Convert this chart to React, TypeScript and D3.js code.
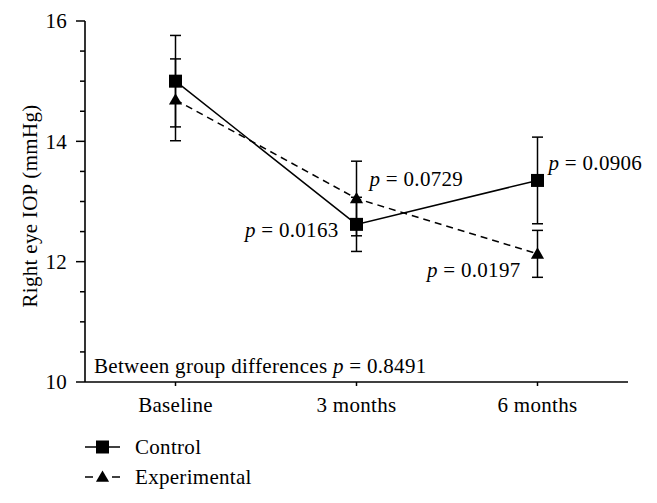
import React from "react";
import * as d3 from "d3";

const categories = ["Baseline", "3 months", "6 months"];
const controlMean = [15.0, 12.62, 13.35];
const controlErr = [0.76, 0.45, 0.72];
const experimentalMean = [14.69, 13.05, 12.13];
const experimentalErr = [0.68, 0.62, 0.39];
const yTickLabels = [10, 12, 14, 16];
const yMinorTicks = [10.5, 11, 11.5, 12.5, 13, 13.5, 14.5, 15, 15.5];
const pLabels = ["0.0163", "0.0729", "0.0906", "0.0197"];
const betweenP = "0.8491";

const W = 657;
const H = 503;
const FONT = '"Liberation Serif", "DejaVu Serif", serif';
const FS = 21;
const LS = 0.3;

export default function App() {
  const x = d3.scalePoint<string>().domain(categories).range([85, 628]).padding(0.5);
  const y = d3.scaleLinear().domain([10, 16]).range([382, 21]);

  const ctrlPts = categories.map((c, i) => ({ c, v: controlMean[i], e: controlErr[i] }));
  const expPts = categories.map((c, i) => ({ c, v: experimentalMean[i], e: experimentalErr[i] }));

  const line = d3
    .line<{ c: string; v: number }>()
    .x((d) => x(d.c) as number)
    .y((d) => y(d.v));

  const tri = d3.symbol().type(d3.symbolTriangle).size(75)() as string;

  const errBar = (d: { c: string; v: number; e: number }, key: string) => {
    const cx = x(d.c) as number;
    const y1 = y(d.v + d.e);
    const y2 = y(d.v - d.e);
    return (
      <g key={key} stroke="#000" strokeWidth={1.5}>
        <line x1={cx} x2={cx} y1={y1} y2={y2} />
        <line x1={cx - 5.5} x2={cx + 5.5} y1={y1} y2={y1} />
        <line x1={cx - 5.5} x2={cx + 5.5} y1={y2} y2={y2} />
      </g>
    );
  };

  const pText = (val: string, tx: number, ty: number, anchor: string, key: string) => (
    <text key={key} x={tx} y={ty} textAnchor={anchor} fontSize={FS} fill="#000">
      <tspan fontStyle="italic">p</tspan>
      <tspan> = {val}</tspan>
    </text>
  );

  return (
    <svg
      width={W}
      height={H}
      style={{
        position: "absolute",
        left: 0,
        top: 0,
        background: "#fff",
        fontFamily: FONT,
        letterSpacing: LS,
      }}
    >
      <rect width={W} height={H} fill="#fff" />
      {/* axes */}
      <line x1={85} x2={85} y1={y(16)} y2={y(10)} stroke="#000" strokeWidth={1.6} />
      <line x1={85} x2={628} y1={y(10)} y2={y(10)} stroke="#000" strokeWidth={1.6} />
      {yTickLabels.map((t) => (
        <g key={"yt" + t}>
          <line x1={76} x2={85} y1={y(t)} y2={y(t)} stroke="#000" strokeWidth={1.5} />
          <text x={67} y={y(t)} dy="0.35em" textAnchor="end" fontSize={FS}>
            {t}
          </text>
        </g>
      ))}
      {yMinorTicks.map((t) => (
        <line key={"ym" + t} x1={80} x2={85} y1={y(t)} y2={y(t)} stroke="#000" strokeWidth={1.5} />
      ))}
      {categories.map((c) => (
        <g key={"xt" + c}>
          <line x1={x(c)} x2={x(c)} y1={y(10)} y2={y(10) + 4} stroke="#000" strokeWidth={1.5} />
          <text x={x(c)} y={412} textAnchor="middle" fontSize={FS}>
            {c}
          </text>
        </g>
      ))}
      <text
        transform={`translate(30,206) rotate(-90)`}
        textAnchor="middle"
        dy="0.35em"
        fontSize={FS}
      >
        Right eye IOP (mmHg)
      </text>

      {/* lines */}
      <path d={line(ctrlPts) as string} fill="none" stroke="#000" strokeWidth={1.5} />
      <path
        d={line(expPts) as string}
        fill="none"
        stroke="#000"
        strokeWidth={1.5}
        strokeDasharray="7,5"
      />

      {/* error bars */}
      {ctrlPts.map((d, i) => errBar(d, "ce" + i))}
      {expPts.map((d, i) => errBar(d, "ee" + i))}

      {/* markers */}
      {ctrlPts.map((d, i) => (
        <rect
          key={"cm" + i}
          x={(x(d.c) as number) - 6.5}
          y={y(d.v) - 6.5}
          width={13}
          height={13}
          fill="#000"
        />
      ))}
      {expPts.map((d, i) => (
        <path
          key={"em" + i}
          d={tri}
          transform={`translate(${x(d.c)},${y(d.v) + 1})`}
          fill="#000"
        />
      ))}

      {/* p labels */}
      {pText(pLabels[0], (x(categories[1]) as number) - 18, y(controlMean[1]) + 13, "end", "p0")}
      {pText(pLabels[1], (x(categories[1]) as number) + 13, y(experimentalMean[1]) - 12, "start", "p1")}
      {pText(pLabels[2], (x(categories[2]) as number) + 11, y(controlMean[2]) - 10, "start", "p2")}
      {pText(pLabels[3], (x(categories[2]) as number) - 17, y(experimentalMean[2]) + 23, "end", "p3")}

      <text x={94} y={373} fontSize={FS}>
        Between group differences <tspan fontStyle="italic">p</tspan> = {betweenP}
      </text>

      {/* legend */}
      <g>
        <line x1={85} x2={120} y1={447} y2={447} stroke="#000" strokeWidth={1.5} />
        <rect x={96} y={440.5} width={13} height={13} fill="#000" />
        <text x={135} y={447} dy="0.35em" fontSize={FS}>
          Control
        </text>
        <line x1={85} x2={93} y1={477} y2={477} stroke="#000" strokeWidth={1.5} />
        <line x1={112} x2={120} y1={477} y2={477} stroke="#000" strokeWidth={1.5} />
        <path d={tri} transform={`translate(102.5,478)`} fill="#000" />
        <text x={135} y={477} dy="0.35em" fontSize={FS}>
          Experimental
        </text>
      </g>
    </svg>
  );
}
